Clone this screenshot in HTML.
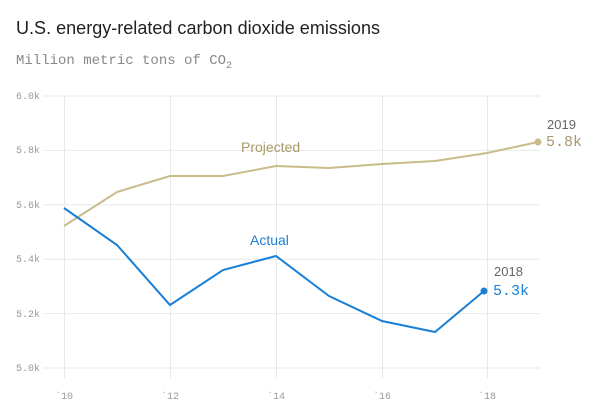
<!DOCTYPE html><html><head><style>
body{margin:0;background:#fff;width:612px;height:404px;overflow:hidden}
</style></head><body>
<svg width="612" height="404" xmlns="http://www.w3.org/2000/svg">
<text x="16" y="34" font-family="Liberation Sans,sans-serif" font-size="18" fill="#222" textLength="364" lengthAdjust="spacingAndGlyphs">U.S. energy-related carbon dioxide emissions</text>
<text x="16" y="64" font-family="Liberation Mono,monospace" font-size="14" fill="#888">Million metric tons of CO<tspan font-size="10" dy="4">2</tspan></text>
<g stroke="#e8e8e8" stroke-width="1">
<line x1="43" y1="96" x2="540" y2="96"/><line x1="43" y1="150.4" x2="540" y2="150.4"/><line x1="43" y1="204.8" x2="540" y2="204.8"/><line x1="43" y1="259.2" x2="540" y2="259.2"/><line x1="43" y1="313.6" x2="540" y2="313.6"/><line x1="43" y1="368" x2="540" y2="368"/>
<line x1="64.5" y1="96" x2="64.5" y2="378"/><line x1="170.5" y1="96" x2="170.5" y2="378"/><line x1="276.5" y1="96" x2="276.5" y2="378"/><line x1="382.5" y1="96" x2="382.5" y2="378"/><line x1="487.5" y1="96" x2="487.5" y2="378"/>
</g>
<g font-family="Liberation Mono,monospace" font-size="10" fill="#999" text-anchor="end">
<text x="40" y="99">6.0k</text><text x="40" y="153">5.8k</text><text x="40" y="208">5.6k</text><text x="40" y="262">5.4k</text><text x="40" y="317">5.2k</text><text x="40" y="371">5.0k</text>
</g>
<g font-family="Liberation Mono,monospace" font-size="10" fill="#999" text-anchor="middle">
<text x="64" y="399">`10</text><text x="170" y="399">`12</text><text x="276" y="399">`14</text><text x="382" y="399">`16</text><text x="487" y="399">`18</text>
</g>
<polyline fill="none" stroke="#c9bb8a" stroke-width="2" points="64,226 117,192 170,176 223,176 276,166 329,168 382,164 435,161 487,153 538,142"/>
<circle cx="538" cy="142" r="3.5" fill="#c9bb8a"/>
<polyline fill="none" stroke="#1a7fd6" stroke-width="2" points="64,208 117,245 170,305 223,270 276,256 329,296 382,321 435,332 484,291"/>
<circle cx="484" cy="291" r="3.5" fill="#1a7fd6"/>
<text x="241" y="152" font-family="Liberation Sans,sans-serif" font-size="14" fill="#a79a6a">Projected</text>
<text x="250" y="245" font-family="Liberation Sans,sans-serif" font-size="14" fill="#1a7fd6">Actual</text>
<text x="547" y="129" font-family="Liberation Sans,sans-serif" font-size="13" fill="#666">2019</text>
<text x="546" y="146" font-family="Liberation Mono,monospace" font-size="15" fill="#a79a6a">5.8k</text>
<text x="494" y="276" font-family="Liberation Sans,sans-serif" font-size="13" fill="#666">2018</text>
<text x="493" y="295" font-family="Liberation Mono,monospace" font-size="15" fill="#1a7fd6">5.3k</text>
</svg>
</body></html>
